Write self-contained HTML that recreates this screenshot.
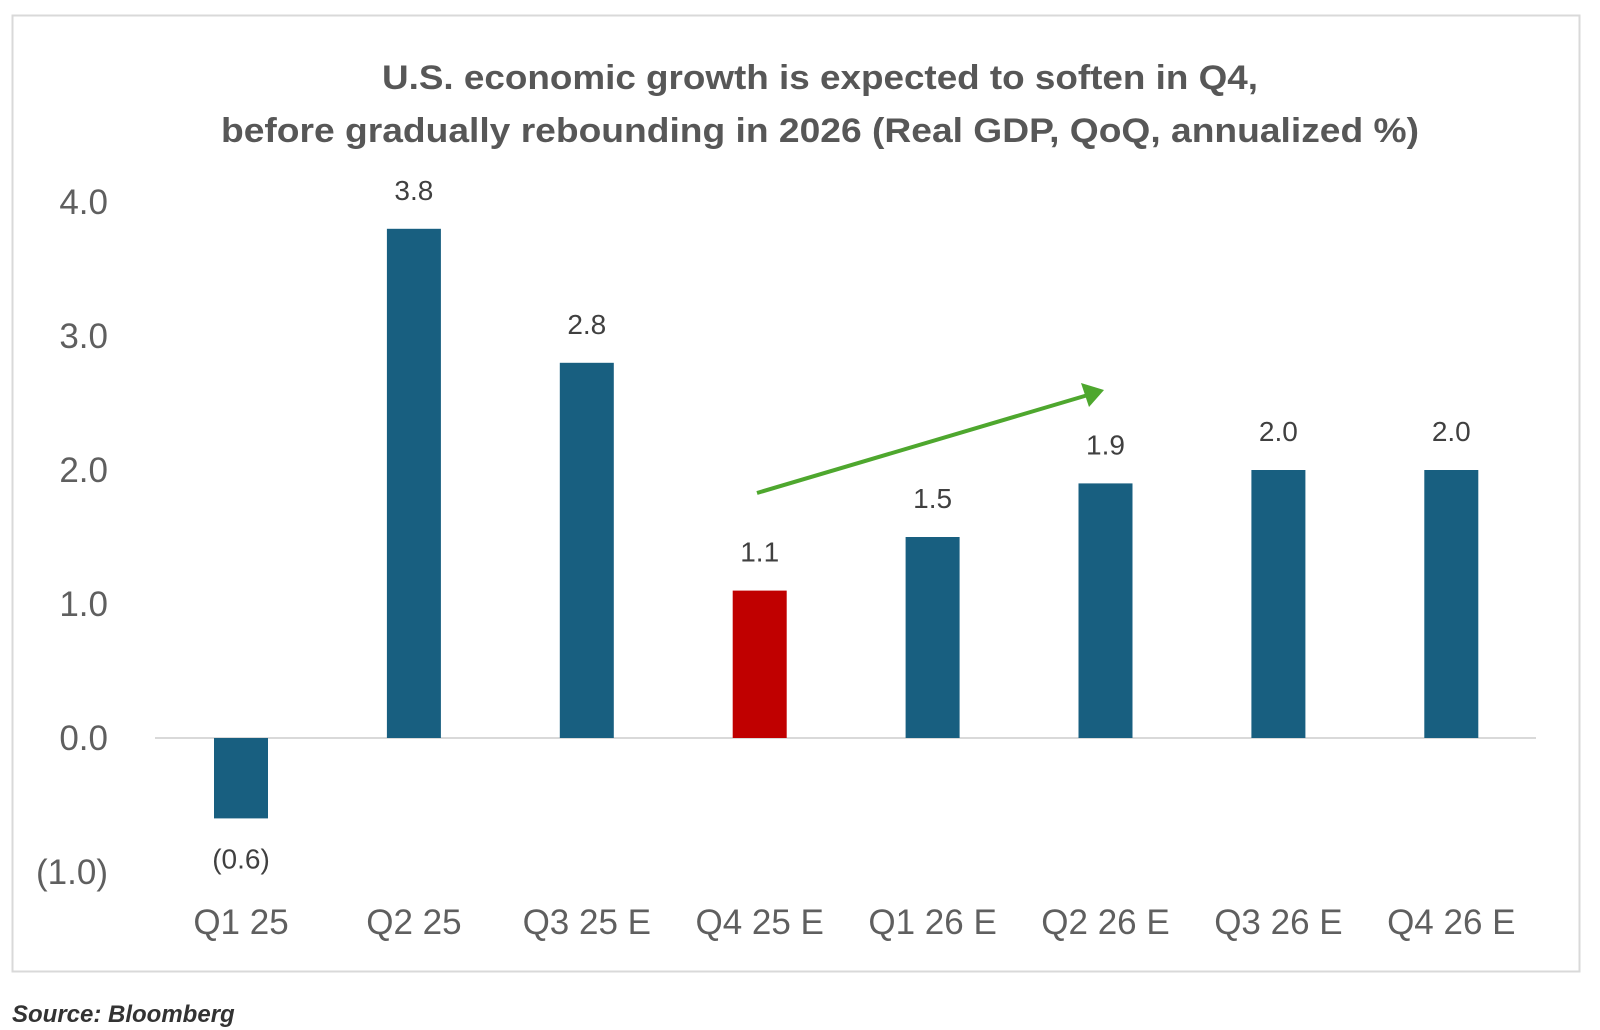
<!DOCTYPE html>
<html><head><meta charset="utf-8"><style>
html,body{margin:0;padding:0;background:#fff;}
svg{display:block;}
</style></head><body>
<svg id="chart" width="1600" height="1030" viewBox="0 0 1600 1030" font-family="Liberation Sans, sans-serif">
<rect x="12.5" y="15.5" width="1567" height="956" fill="#fff" stroke="#d9d9d9" stroke-width="2"/>
<text x="820" y="89" text-anchor="middle" font-size="34" font-weight="bold" fill="#575757" textLength="876" lengthAdjust="spacingAndGlyphs">U.S. economic growth is expected to soften in Q4,</text>
<text x="820" y="142" text-anchor="middle" font-size="34" font-weight="bold" fill="#575757" textLength="1198" lengthAdjust="spacingAndGlyphs">before gradually rebounding in 2026 (Real GDP, QoQ, annualized %)</text>
<g id="yaxis"></g>
<g id="bars"></g>
<g id="xaxis"></g>
<line x1="757" y1="493" x2="1088" y2="395" stroke="#4ea72e" stroke-width="4"/>
<polygon points="1104,390 1081,383 1089,407" fill="#4ea72e"/>
<text x="12" y="1022" font-size="24" font-style="italic" font-weight="bold" fill="#333">Source: Bloomberg</text>
</svg>
<script>
const categories = ["Q1 25","Q2 25","Q3 25 E","Q4 25 E","Q1 26 E","Q2 26 E","Q3 26 E","Q4 26 E"];
const values = [-0.6, 3.8, 2.8, 1.1, 1.5, 1.9, 2.0, 2.0];
const valueLabels = ["(0.6)","3.8","2.8","1.1","1.5","1.9","2.0","2.0"];
const highlight = [false,false,false,true,false,false,false,false];
const yTicks = [4, 3, 2, 1, 0, -1];
const yTickLabels = ["4.0","3.0","2.0","1.0","0.0","(1.0)"];

const NS = "http://www.w3.org/2000/svg";
const y0 = 738, unit = 134;
const y = v => y0 - unit * v;
const x0 = 241, step = 172.9;
const x = i => x0 + step * i;
const bw = 54;

function mk(tag, attrs, parent, text){
  const el = document.createElementNS(NS, tag);
  for (const k in attrs) el.setAttribute(k, attrs[k]);
  if (text !== undefined) el.textContent = text;
  parent.appendChild(el);
  return el;
}
const ya = document.getElementById('yaxis');
yTicks.forEach((t, i) => {
  const el = mk('text', {x: 108, y: y(t) + 12, 'text-anchor': 'end', 'font-size': 35, fill: '#5f5f5f'}, ya, yTickLabels[i]);
  
  
});
const bars = document.getElementById('bars');
const axisLine = mk('line', {x1: 155, x2: 1536, y1: y(0), y2: y(0), stroke: '#d9d9d9', 'stroke-width': 2}, bars);


values.forEach((v, i) => {
  const top = Math.min(y(v), y(0)), h = Math.abs(y(v) - y(0));
  const r = mk('rect', {x: x(i) - bw/2, y: top, width: bw, height: h, fill: highlight[i] ? '#c00000' : '#185f80'}, bars);
  
  
  const ly = v >= 0 ? y(v) - 29 : y(v) + 50;
  const l = mk('text', {x: x(i), y: ly, 'text-anchor': 'middle', 'font-size': 28, fill: '#404040'}, bars, valueLabels[i]);
  
  
});
const xa = document.getElementById('xaxis');
categories.forEach((c, i) => {
  const el = mk('text', {x: x(i), y: 934, 'text-anchor': 'middle', 'font-size': 35, fill: '#5f5f5f'}, xa, c);
  
  
});
</script>
</body></html>
